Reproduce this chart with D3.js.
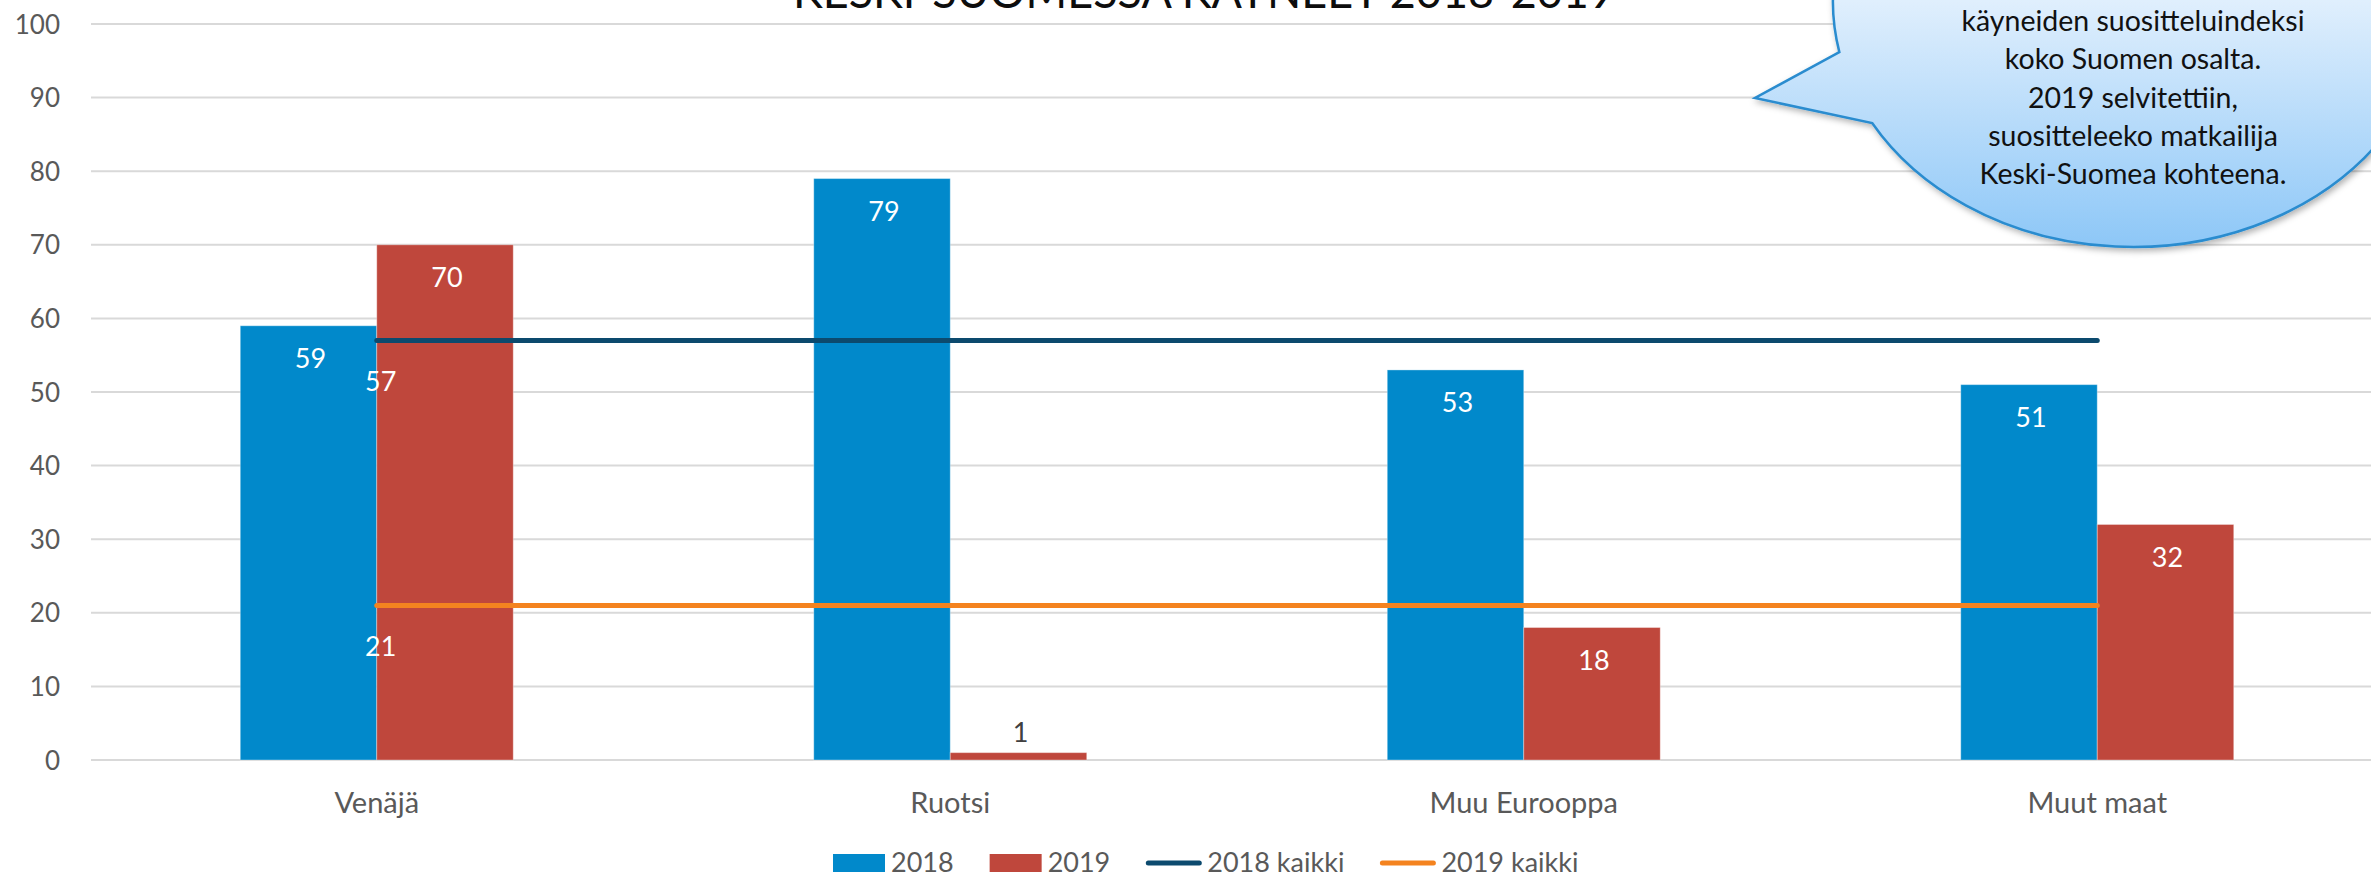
<!DOCTYPE html>
<html>
<head>
<meta charset="utf-8">
<script src="https://cdn.jsdelivr.net/npm/d3@7"></script>
<style>
html,body{margin:0;padding:0;background:#fff;}
svg{display:block;}
text{font-family:Lato,"Open Sans",sans-serif;}
</style>
</head>
<body>
<svg id="chart" width="2371" height="878"></svg>
<script>
// ---- data ----
const categories = ["Venäjä", "Ruotsi", "Muu Eurooppa", "Muut maat"];
const values2018 = [59, 79, 53, 51];
const values2019 = [70, 1, 18, 32];
const kaikki2018 = [57, 57, 57, 57];
const kaikki2019 = [21, 21, 21, 21];
const barSeries = ["2018", "2019"];
const lineSeries = ["2018 kaikki", "2019 kaikki"];
const yTicks = [0, 10, 20, 30, 40, 50, 60, 70, 80, 90, 100];
const titleText = "KESKI-SUOMESSA KÄYNEET 2018-2019";
const calloutLines = [
  "käyneiden suositteluindeksi",
  "koko Suomen osalta.",
  "2019 selvitettiin,",
  "suositteleeko matkailija",
  "Keski-Suomea kohteena."
];

// ---- styles ----
const W = 2371, H = 878;
const colors = {"2018": "#0189CB", "2019": "#BF473C", "2018 kaikki": "#0C4A6E", "2019 kaikki": "#F4831F"};
const textGrey = "#595959";
const svg = d3.select("#chart");

const x = d3.scaleBand().domain(categories).range([90, 2384]).paddingInner(0.524).paddingOuter(0.262);
const xs = d3.scaleBand().domain(barSeries).range([0, x.bandwidth()]);
const y = d3.scaleLinear().domain([0, 100]).range([760, 24]);
const cx = c => x(c) + x.bandwidth() / 2;

// gridlines
svg.append("g").selectAll("line").data(yTicks).join("line")
  .attr("x1", 91).attr("x2", W)
  .attr("y1", d => y(d)).attr("y2", d => y(d))
  .attr("stroke", "#D9D9D9").attr("stroke-width", 2);

// y axis labels
const yAxis = d3.axisLeft(y).tickValues(yTicks).tickSize(0).tickPadding(0);
const yg = svg.append("g").attr("transform", "translate(60,0)").call(yAxis);
yg.select(".domain").remove();
yg.selectAll("text").attr("font-size", 26).attr("fill", textGrey)
  .style("font-family", "Lato, 'Open Sans', sans-serif").attr("dy", "0.35em");

// x axis labels
const xAxis = d3.axisBottom(x).tickSize(0).tickPadding(0);
const xg = svg.append("g").attr("transform", "translate(0,792)").call(xAxis);
xg.select(".domain").remove();
xg.selectAll("text").attr("font-size", 29).attr("fill", textGrey)
  .style("font-family", "Lato, 'Open Sans', sans-serif").attr("dy", "0.72em");

// bars
const barData = [];
categories.forEach((c, i) => {
  barData.push({cat: c, s: "2018", v: values2018[i]});
  barData.push({cat: c, s: "2019", v: values2019[i]});
});
svg.append("g").selectAll("rect").data(barData).join("rect")
  .attr("x", d => x(d.cat) + xs(d.s))
  .attr("width", xs.bandwidth())
  .attr("y", d => y(d.v))
  .attr("height", d => y(0) - y(d.v))
  .attr("fill", d => colors[d.s])
  .attr("stroke", "rgba(255,255,255,0.35)").attr("stroke-width", 1);

// lines
const lineGen = d3.line().x(d => cx(d.cat)).y(d => y(d.v));
[[lineSeries[0], kaikki2018], [lineSeries[1], kaikki2019]].forEach(([name, vals]) => {
  svg.append("path")
    .datum(categories.map((c, i) => ({cat: c, v: vals[i]})))
    .attr("d", lineGen)
    .attr("fill", "none").attr("stroke", colors[name])
    .attr("stroke-width", 5).attr("stroke-linecap", "round");
});

// bar labels
svg.append("g").selectAll("text").data(barData).join("text")
  .attr("x", d => x(d.cat) + xs(d.s) + xs.bandwidth() / 2 + 2)
  .attr("y", d => (y(0) - y(d.v) > 45) ? y(d.v) + 33 : y(d.v) - 20)
  .attr("dy", "0.35em")
  .attr("text-anchor", "middle").attr("font-size", 27)
  .attr("fill", d => (y(0) - y(d.v) > 45) ? "#fff" : "#404040")
  .text(d => d.v);

// line labels (first point only)
[kaikki2018, kaikki2019].forEach(vals => {
  svg.append("text")
    .attr("x", cx(categories[0]) + 4).attr("y", y(vals[0]) + 41)
    .attr("dy", "0.35em").attr("text-anchor", "middle")
    .attr("font-size", 27).attr("fill", "#fff")
    .text(vals[0]);
});

// title (clipped at top, as in the reference)
svg.append("text")
  .attr("x", 793).attr("y", 8)
  .attr("font-size", 46).attr("fill", "#0D0D0D")
  .attr("textLength", 822).attr("lengthAdjust", "spacingAndGlyphs")
  .text(titleText);

// callout
const defs = svg.append("defs");
const grad = defs.append("linearGradient").attr("id", "cg")
  .attr("gradientUnits", "userSpaceOnUse").attr("x1", 0).attr("y1", 0).attr("x2", 0).attr("y2", 247);
grad.append("stop").attr("offset", "0%").attr("stop-color", "#E0EFFD");
grad.append("stop").attr("offset", "100%").attr("stop-color", "#8DC7F7");
const flt = defs.append("filter").attr("id", "sh").attr("x", "-20%").attr("y", "-20%").attr("width", "140%").attr("height", "140%");
flt.append("feDropShadow").attr("dx", 2).attr("dy", 3).attr("stdDeviation", 3)
  .attr("flood-color", "#000").attr("flood-opacity", 0.3);

const E = {cx: 2133, cy: 2, rx: 300, ry: 245};
const tip = [1755, 98];
const pt = a => [E.cx + E.rx * Math.cos(a), E.cy + E.ry * Math.sin(a)];
const a1 = 150.4 * Math.PI / 180, a2 = 168.2 * Math.PI / 180;
const p1 = pt(a1), p2 = pt(a2);
const pathD = `M${p1[0]},${p1[1]} A${E.rx},${E.ry} 0 1 0 ${p2[0]},${p2[1]} L${tip[0]},${tip[1]} Z`;
svg.append("path").attr("d", pathD)
  .attr("fill", "url(#cg)").attr("stroke", "#2A8CCF").attr("stroke-width", 2.5)
  .attr("stroke-linejoin", "miter").attr("filter", "url(#sh)");

svg.append("g").selectAll("text").data(calloutLines).join("text")
  .attr("x", 2133).attr("y", (d, i) => 31 + i * 38.3)
  .attr("text-anchor", "middle").attr("font-size", 28.5).attr("fill", "#111")
  .text(d => d);

// legend
const legendItems = [
  {name: barSeries[0], type: "rect"},
  {name: barSeries[1], type: "rect"},
  {name: lineSeries[0], type: "line"},
  {name: lineSeries[1], type: "line"}
];
const lg = svg.append("g");
let lx = 833;
legendItems.forEach(it => {
  const sw = it.type === "rect" ? 52 : 55;
  if (it.type === "rect") {
    lg.append("rect").attr("x", lx).attr("y", 854).attr("width", sw).attr("height", 18).attr("fill", colors[it.name]);
  } else {
    lg.append("line").attr("x1", lx + 2).attr("x2", lx + sw - 2).attr("y1", 863).attr("y2", 863)
      .attr("stroke", colors[it.name]).attr("stroke-width", 5).attr("stroke-linecap", "round");
  }
  const t = lg.append("text").attr("x", lx + sw + 6).attr("y", 872)
    .attr("font-size", 27).attr("fill", textGrey).text(it.name);
  lx += sw + 6 + t.node().getComputedTextLength() + 36;
});
</script>
</body>
</html>
